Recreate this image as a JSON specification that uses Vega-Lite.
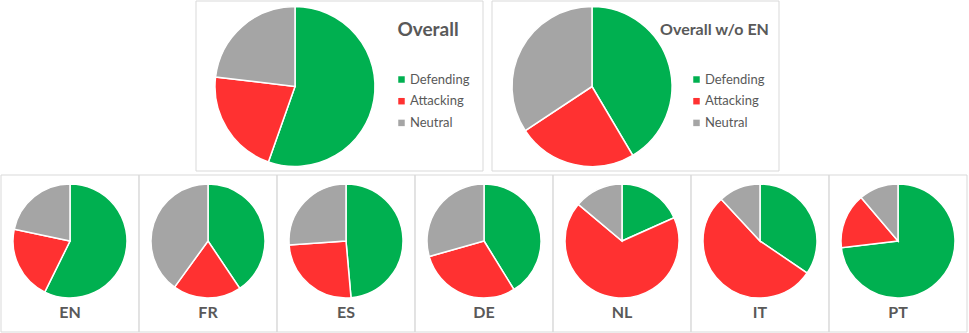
{
  "$schema": "https://vega.github.io/schema/vega-lite/v6.json",
  "padding": {"left": 0, "top": 0, "right": 0, "bottom": 0},
  "background": "white",
  "config": {"view": {"stroke": null}, "font": "Lato"},
  "data": {"values": [
    {"panel": "Overall", "Category": "Defending", "seq": 1, "value": 55.4},
    {"panel": "Overall", "Category": "Attacking", "seq": 2, "value": 21.5},
    {"panel": "Overall", "Category": "Neutral", "seq": 3, "value": 23.1},
    {"panel": "Overall w/o EN", "Category": "Defending", "seq": 1, "value": 41.5},
    {"panel": "Overall w/o EN", "Category": "Attacking", "seq": 2, "value": 24.2},
    {"panel": "Overall w/o EN", "Category": "Neutral", "seq": 3, "value": 34.3},
    {"panel": "EN", "Category": "Defending", "seq": 1, "value": 57.3},
    {"panel": "EN", "Category": "Attacking", "seq": 2, "value": 21.0},
    {"panel": "EN", "Category": "Neutral", "seq": 3, "value": 21.7},
    {"panel": "FR", "Category": "Defending", "seq": 1, "value": 40.6},
    {"panel": "FR", "Category": "Attacking", "seq": 2, "value": 19.4},
    {"panel": "FR", "Category": "Neutral", "seq": 3, "value": 40.0},
    {"panel": "ES", "Category": "Defending", "seq": 1, "value": 48.6},
    {"panel": "ES", "Category": "Attacking", "seq": 2, "value": 25.3},
    {"panel": "ES", "Category": "Neutral", "seq": 3, "value": 26.1},
    {"panel": "DE", "Category": "Defending", "seq": 1, "value": 41.2},
    {"panel": "DE", "Category": "Attacking", "seq": 2, "value": 29.4},
    {"panel": "DE", "Category": "Neutral", "seq": 3, "value": 29.4},
    {"panel": "NL", "Category": "Defending", "seq": 1, "value": 18.3},
    {"panel": "NL", "Category": "Attacking", "seq": 2, "value": 67.8},
    {"panel": "NL", "Category": "Neutral", "seq": 3, "value": 13.9},
    {"panel": "IT", "Category": "Defending", "seq": 1, "value": 34.5},
    {"panel": "IT", "Category": "Attacking", "seq": 2, "value": 53.6},
    {"panel": "IT", "Category": "Neutral", "seq": 3, "value": 11.9},
    {"panel": "PT", "Category": "Defending", "seq": 1, "value": 73.1},
    {"panel": "PT", "Category": "Attacking", "seq": 2, "value": 15.7},
    {"panel": "PT", "Category": "Neutral", "seq": 3, "value": 11.2}
  ]},
  "spacing": 2,
  "resolve": {"scale": {"color": "independent", "theta": "independent"}, "legend": {"color": "independent"}},
  "vconcat": [
    {
      "spacing": 9,
      "bounds": "flush",
      "resolve": {"scale": {"color": "independent", "theta": "independent"}, "legend": {"color": "independent"}},
      "hconcat": [
        {"width": 186, "height": 170, "data": {"values": []}, "mark": "point", "encoding": {}},
        {
          "width": 287, "height": 170,
          "transform": [{"filter": "datum.panel === 'Overall'"}],
          "layer": [
            {"transform": [{"filter": "datum.seq === 1"}], "mark": {"type": "rect", "filled": false, "stroke": "#d9d9d9", "strokeWidth": 1}, "encoding": {}},
            {"mark": {"type": "arc", "outerRadius": 80, "xOffset": -44.5, "yOffset": 0.5, "stroke": "white", "strokeWidth": 1.5},
             "encoding": {
               "theta": {"field": "value", "type": "quantitative", "stack": true},
               "color": {"field": "Category", "type": "nominal", "scale": {"domain": ["Defending", "Attacking", "Neutral"], "range": ["#00b050", "#ff3131", "#a5a5a5"]},
                 "legend": {"orient": "none", "legendX": 199, "legendY": 72, "title": null, "symbolType": "square", "symbolSize": 42, "symbolStrokeWidth": 0, "labelFont": "Lato", "labelFontSize": 13, "labelColor": "#595959", "rowPadding": 7.7, "labelOffset": 2}},
               "order": {"field": "seq", "type": "quantitative", "sort": "ascending"}
             }},
            {"transform": [{"filter": "datum.seq === 1"}],
             "mark": {"type": "text", "dx": 88.5, "dy": -56, "fontSize": 19, "fontWeight": "bold", "color": "#595959", "font": "Lato"},
             "encoding": {"text": {"field": "panel"}}}
          ]
        },
        {
          "width": 287, "height": 170,
          "transform": [{"filter": "datum.panel === 'Overall w/o EN'"}],
          "layer": [
            {"transform": [{"filter": "datum.seq === 1"}], "mark": {"type": "rect", "filled": false, "stroke": "#d9d9d9", "strokeWidth": 1}, "encoding": {}},
            {"mark": {"type": "arc", "outerRadius": 80, "xOffset": -43.5, "yOffset": 0.5, "stroke": "white", "strokeWidth": 1.5},
             "encoding": {
               "theta": {"field": "value", "type": "quantitative", "stack": true},
               "color": {"field": "Category", "type": "nominal", "scale": {"domain": ["Defending", "Attacking", "Neutral"], "range": ["#00b050", "#ff3131", "#a5a5a5"]},
                 "legend": {"orient": "none", "legendX": 198, "legendY": 72, "title": null, "symbolType": "square", "symbolSize": 42, "symbolStrokeWidth": 0, "labelFont": "Lato", "labelFontSize": 13, "labelColor": "#595959", "rowPadding": 7.7, "labelOffset": 2}},
               "order": {"field": "seq", "type": "quantitative", "sort": "ascending"}
             }},
            {"transform": [{"filter": "datum.seq === 1"}],
             "mark": {"type": "text", "dx": 79, "dy": -56, "fontSize": 16, "fontWeight": "bold", "color": "#595959", "font": "Lato"},
             "encoding": {"text": {"field": "panel"}}}
          ]
        }
      ]
    },
    {
      "spacing": 0,
      "bounds": "flush",
      "resolve": {"scale": {"color": "independent", "theta": "independent"}, "legend": {"color": "independent"}},
      "hconcat": [
        {"width": 138, "height": 157, "transform": [{"filter": "datum.panel === 'EN'"}], "layer": [
          {"transform": [{"filter": "datum.seq === 1"}], "mark": {"type": "rect", "filled": false, "stroke": "#d9d9d9", "strokeWidth": 1}, "encoding": {}},
          {"mark": {"type": "arc", "outerRadius": 57, "yOffset": -12.5, "stroke": "white", "strokeWidth": 1.5},
           "encoding": {"theta": {"field": "value", "type": "quantitative", "stack": true}, "color": {"field": "Category", "type": "nominal", "scale": {"domain": ["Defending", "Attacking", "Neutral"], "range": ["#00b050", "#ff3131", "#a5a5a5"]}, "legend": null}, "order": {"field": "seq", "type": "quantitative", "sort": "ascending"}}},
          {"transform": [{"filter": "datum.seq === 1"}], "mark": {"type": "text", "dy": 59, "fontSize": 16, "fontWeight": "bold", "color": "#595959", "font": "Lato"}, "encoding": {"text": {"field": "panel"}}}
        ]},
        {"width": 138, "height": 157, "transform": [{"filter": "datum.panel === 'FR'"}], "layer": [
          {"transform": [{"filter": "datum.seq === 1"}], "mark": {"type": "rect", "filled": false, "stroke": "#d9d9d9", "strokeWidth": 1}, "encoding": {}},
          {"mark": {"type": "arc", "outerRadius": 57, "yOffset": -12.5, "stroke": "white", "strokeWidth": 1.5},
           "encoding": {"theta": {"field": "value", "type": "quantitative", "stack": true}, "color": {"field": "Category", "type": "nominal", "scale": {"domain": ["Defending", "Attacking", "Neutral"], "range": ["#00b050", "#ff3131", "#a5a5a5"]}, "legend": null}, "order": {"field": "seq", "type": "quantitative", "sort": "ascending"}}},
          {"transform": [{"filter": "datum.seq === 1"}], "mark": {"type": "text", "dy": 59, "fontSize": 16, "fontWeight": "bold", "color": "#595959", "font": "Lato"}, "encoding": {"text": {"field": "panel"}}}
        ]},
        {"width": 138, "height": 157, "transform": [{"filter": "datum.panel === 'ES'"}], "layer": [
          {"transform": [{"filter": "datum.seq === 1"}], "mark": {"type": "rect", "filled": false, "stroke": "#d9d9d9", "strokeWidth": 1}, "encoding": {}},
          {"mark": {"type": "arc", "outerRadius": 57, "yOffset": -12.5, "stroke": "white", "strokeWidth": 1.5},
           "encoding": {"theta": {"field": "value", "type": "quantitative", "stack": true}, "color": {"field": "Category", "type": "nominal", "scale": {"domain": ["Defending", "Attacking", "Neutral"], "range": ["#00b050", "#ff3131", "#a5a5a5"]}, "legend": null}, "order": {"field": "seq", "type": "quantitative", "sort": "ascending"}}},
          {"transform": [{"filter": "datum.seq === 1"}], "mark": {"type": "text", "dy": 59, "fontSize": 16, "fontWeight": "bold", "color": "#595959", "font": "Lato"}, "encoding": {"text": {"field": "panel"}}}
        ]},
        {"width": 138, "height": 157, "transform": [{"filter": "datum.panel === 'DE'"}], "layer": [
          {"transform": [{"filter": "datum.seq === 1"}], "mark": {"type": "rect", "filled": false, "stroke": "#d9d9d9", "strokeWidth": 1}, "encoding": {}},
          {"mark": {"type": "arc", "outerRadius": 57, "yOffset": -12.5, "stroke": "white", "strokeWidth": 1.5},
           "encoding": {"theta": {"field": "value", "type": "quantitative", "stack": true}, "color": {"field": "Category", "type": "nominal", "scale": {"domain": ["Defending", "Attacking", "Neutral"], "range": ["#00b050", "#ff3131", "#a5a5a5"]}, "legend": null}, "order": {"field": "seq", "type": "quantitative", "sort": "ascending"}}},
          {"transform": [{"filter": "datum.seq === 1"}], "mark": {"type": "text", "dy": 59, "fontSize": 16, "fontWeight": "bold", "color": "#595959", "font": "Lato"}, "encoding": {"text": {"field": "panel"}}}
        ]},
        {"width": 138, "height": 157, "transform": [{"filter": "datum.panel === 'NL'"}], "layer": [
          {"transform": [{"filter": "datum.seq === 1"}], "mark": {"type": "rect", "filled": false, "stroke": "#d9d9d9", "strokeWidth": 1}, "encoding": {}},
          {"mark": {"type": "arc", "outerRadius": 57, "yOffset": -12.5, "stroke": "white", "strokeWidth": 1.5},
           "encoding": {"theta": {"field": "value", "type": "quantitative", "stack": true}, "color": {"field": "Category", "type": "nominal", "scale": {"domain": ["Defending", "Attacking", "Neutral"], "range": ["#00b050", "#ff3131", "#a5a5a5"]}, "legend": null}, "order": {"field": "seq", "type": "quantitative", "sort": "ascending"}}},
          {"transform": [{"filter": "datum.seq === 1"}], "mark": {"type": "text", "dy": 59, "fontSize": 16, "fontWeight": "bold", "color": "#595959", "font": "Lato"}, "encoding": {"text": {"field": "panel"}}}
        ]},
        {"width": 138, "height": 157, "transform": [{"filter": "datum.panel === 'IT'"}], "layer": [
          {"transform": [{"filter": "datum.seq === 1"}], "mark": {"type": "rect", "filled": false, "stroke": "#d9d9d9", "strokeWidth": 1}, "encoding": {}},
          {"mark": {"type": "arc", "outerRadius": 57, "yOffset": -12.5, "stroke": "white", "strokeWidth": 1.5},
           "encoding": {"theta": {"field": "value", "type": "quantitative", "stack": true}, "color": {"field": "Category", "type": "nominal", "scale": {"domain": ["Defending", "Attacking", "Neutral"], "range": ["#00b050", "#ff3131", "#a5a5a5"]}, "legend": null}, "order": {"field": "seq", "type": "quantitative", "sort": "ascending"}}},
          {"transform": [{"filter": "datum.seq === 1"}], "mark": {"type": "text", "dy": 59, "fontSize": 16, "fontWeight": "bold", "color": "#595959", "font": "Lato"}, "encoding": {"text": {"field": "panel"}}}
        ]},
        {"width": 138, "height": 157, "transform": [{"filter": "datum.panel === 'PT'"}], "layer": [
          {"transform": [{"filter": "datum.seq === 1"}], "mark": {"type": "rect", "filled": false, "stroke": "#d9d9d9", "strokeWidth": 1}, "encoding": {}},
          {"mark": {"type": "arc", "outerRadius": 57, "yOffset": -12.5, "stroke": "white", "strokeWidth": 1.5},
           "encoding": {"theta": {"field": "value", "type": "quantitative", "stack": true}, "color": {"field": "Category", "type": "nominal", "scale": {"domain": ["Defending", "Attacking", "Neutral"], "range": ["#00b050", "#ff3131", "#a5a5a5"]}, "legend": null}, "order": {"field": "seq", "type": "quantitative", "sort": "ascending"}}},
          {"transform": [{"filter": "datum.seq === 1"}], "mark": {"type": "text", "dy": 59, "fontSize": 16, "fontWeight": "bold", "color": "#595959", "font": "Lato"}, "encoding": {"text": {"field": "panel"}}}
        ]}
      ]
    }
  ]
}
